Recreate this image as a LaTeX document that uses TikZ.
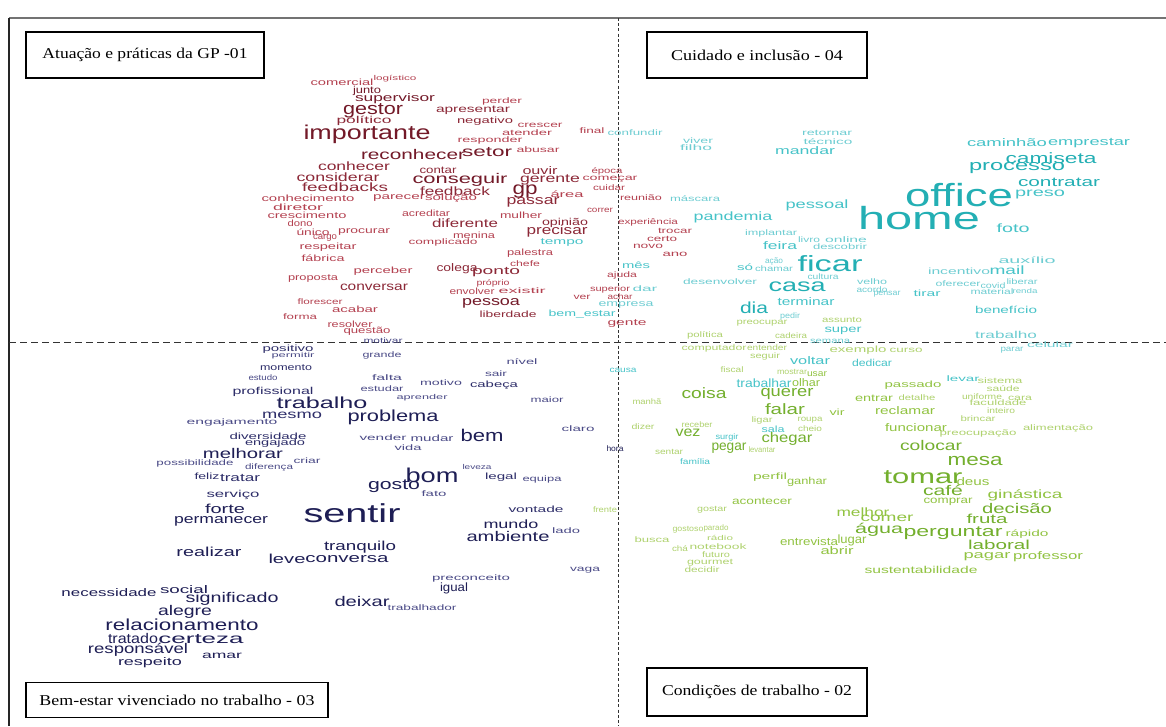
\documentclass[tikz,border=0pt]{standalone}
\usepackage{fontspec}
\usepackage{graphicx}
\setmainfont{Liberation Serif}
\newfontfamily\cloudfont{Liberation Sans}

% quadrant colours
\definecolor{r1}{RGB}{115,25,40}
\definecolor{r2}{RGB}{140,40,55}
\definecolor{r3}{RGB}{180,65,80}
\definecolor{c1}{RGB}{35,175,180}
\definecolor{c2}{RGB}{70,195,200}
\definecolor{c3}{RGB}{110,205,210}
\definecolor{g1}{RGB}{115,175,45}
\definecolor{g2}{RGB}{145,195,65}
\definecolor{g3}{RGB}{175,210,110}
\definecolor{n1}{RGB}{30,30,85}
\definecolor{n2}{RGB}{45,45,105}
\definecolor{n3}{RGB}{75,75,135}

\newcounter{wordno}
% \cw{x}{y}{font size}{width}{colour}{text}: one word of the cloud, stretched to its width
\newcommand\cw[6]{%
  \stepcounter{wordno}%
  \node[word, text=#5] (w\thewordno) at (#1,#2)
    {\resizebox{#4pt}{\height}{\cloudfont\fontsize{#3}{#3}\selectfont #6}};%
}
% \boxtext{font size}{width}{text}: serif title stretched to its width
\newcommand\boxtext[3]{\resizebox{#2pt}{\height}{\fontsize{#1}{#1}\selectfont #3}}

\tikzset{
  word/.style={inner sep=0pt, anchor=center},
  labelbox/.style={draw=black, line width=1.2pt, fill=white, inner sep=0pt},
  axisline/.style={black!80, line width=0.9pt},
}

\begin{document}
\begin{tikzpicture}[x=1pt, y=-1pt]
\useasboundingbox (0,0) rectangle (1166,726);
\fill[white] (0,0) rectangle (1166,726);

% frame and axes
\coordinate (tl) at (9,18);
\coordinate (tr) at (1166,18);
\coordinate (bl) at (9,726);
\coordinate (vt) at (618,18);
\coordinate (vb) at (618,726);
\coordinate (hl) at (9,342);
\coordinate (hr) at (1166,342);
\draw[black!55, line width=2.2pt] (tl) -- (tr);
\draw[black!85, line width=1.8pt] (tl) -- (bl);
\draw[axisline, dash pattern=on 3pt off 2.2pt] (vt) -- (vb);
\draw[axisline, dash pattern=on 7pt off 4pt] (hl) -- (hr);

% ---------- Atuação e práticas da GP (top left) ----------
\cw{342}{82}{9}{63}{r3}{comercial}
\cw{395}{79}{7}{43}{r3}{logístico}
\cw{367}{91}{10}{28}{r1}{junto}
\cw{395}{99}{11}{80}{r1}{supervisor}
\cw{373}{111}{17}{60}{r1}{gestor}
\cw{364}{121}{10}{55}{r2}{político}
\cw{367}{134}{20}{127}{r1}{importante}
\cw{502}{101}{8}{40}{r3}{perder}
\cw{473}{110}{10}{74}{r2}{apresentar}
\cw{485}{121}{9}{56}{r2}{negativo}
\cw{540}{125}{8}{45}{r3}{crescer}
\cw{527}{133}{8}{50}{r3}{atender}
\cw{490}{140}{8}{65}{r3}{responder}
\cw{592}{131}{8}{25}{r3}{final}
\cw{538}{150}{8}{43}{r3}{abusar}
\cw{413}{154}{14}{104}{r1}{reconhecer}
\cw{487}{152}{14}{50}{r1}{setor}
\cw{354}{166}{12}{72}{r2}{conhecer}
\cw{438}{170}{10}{37}{r2}{contar}
\cw{338}{177}{12}{83}{r2}{considerar}
\cw{460}{180}{14}{95}{r1}{conseguir}
\cw{540}{171}{11}{35}{r2}{ouvir}
\cw{607}{171}{8}{31}{r3}{época}
\cw{550}{180}{12}{60}{r2}{gerente}
\cw{610}{179}{8}{55}{r3}{começar}
\cw{345}{187}{12}{86}{r2}{feedbacks}
\cw{455}{191}{12}{70}{r2}{feedback}
\cw{525}{192}{18}{25}{r1}{gp}
\cw{567}{194}{9}{33}{r3}{área}
\cw{609}{188}{8}{32}{r3}{cuidar}
\cw{641}{198}{8}{42}{r3}{reunião}
\cw{308}{198}{9}{93}{r3}{conhecimento}
\cw{399}{198}{9}{52}{r3}{parecer}
\cw{451}{198}{9}{52}{r3}{solução}
\cw{298}{207}{9}{50}{r3}{diretor}
\cw{533}{202}{13}{53}{r2}{passar}
\cw{307}{215}{9}{79}{r3}{crescimento}
\cw{426}{213}{9}{48}{r3}{acreditar}
\cw{600}{210}{8}{26}{r3}{correr}
\cw{521}{215}{9}{42}{r3}{mulher}
\cw{300}{223}{9}{25}{r3}{dono}
\cw{465}{223}{12}{66}{r2}{diferente}
\cw{565}{223}{10}{46}{r2}{opinião}
\cw{648}{222}{8}{60}{r3}{experiência}
\cw{557}{231}{13}{61}{r2}{precisar}
\cw{313}{232}{9}{33}{r3}{único}
\cw{364}{232}{9}{52}{r3}{procurar}
\cw{474}{235}{9}{42}{r3}{menina}
\cw{675}{231}{8}{34}{r3}{trocar}
\cw{325}{238}{9}{24}{r3}{cargo}
\cw{662}{239}{8}{30}{r3}{certo}
\cw{443}{242}{8}{69}{r3}{complicado}
\cw{562}{243}{9}{43}{c2}{tempo}
\cw{648}{246}{8}{30}{r3}{novo}
\cw{328}{247}{9}{57}{r3}{respeitar}
\cw{530}{253}{9}{46}{r3}{palestra}
\cw{675}{254}{8}{25}{r3}{ano}
\cw{323}{258}{9}{43}{r3}{fábrica}
\cw{525}{264}{8}{30}{r3}{chefe}
\cw{383}{271}{9}{59}{r3}{perceber}
\cw{457}{269}{11}{41}{r2}{colega}
\cw{496}{272}{11}{48}{r2}{ponto}
\cw{636}{265}{9}{28}{c2}{mês}
\cw{622}{275}{8}{30}{r3}{ajuda}
\cw{313}{279}{9}{50}{r3}{proposta}
\cw{493}{283}{8}{33}{r3}{próprio}
\cw{374}{287}{12}{68}{r2}{conversar}
\cw{610}{289}{8}{40}{r3}{superior}
\cw{645}{289}{8}{25}{c3}{dar}
\cw{472}{291}{9}{45}{r3}{envolver}
\cw{522}{291}{8}{47}{r3}{existir}
\cw{582}{297}{8}{17}{r3}{ver}
\cw{620}{297}{8}{25}{r3}{achar}
\cw{491}{303}{13}{58}{r1}{pessoa}
\cw{320}{302}{8}{45}{r3}{florescer}
\cw{626}{305}{9}{55}{c3}{empresa}
\cw{355}{309}{9}{46}{r3}{acabar}
\cw{508}{314}{9}{57}{r2}{liberdade}
\cw{582}{314}{9}{67}{c2}{bem\_estar}
\cw{300}{317}{8}{34}{r3}{forma}
\cw{350}{324}{9}{45}{r3}{resolver}
\cw{627}{324}{9}{39}{r3}{gente}
\cw{367}{331}{9}{47}{r3}{questão}
\cw{383}{341}{8}{39}{n3}{motivar}

% ---------- Cuidado e inclusão (top right) ----------
\cw{635}{133}{8}{55}{c3}{confundir}
\cw{698}{141}{8}{30}{c3}{viver}
\cw{696}{148}{8}{32}{c3}{filho}
\cw{827}{133}{8}{50}{c3}{retornar}
\cw{828}{142}{8}{49}{c3}{técnico}
\cw{805}{151}{11}{60}{c2}{mandar}
\cw{1007}{143}{11}{80}{c2}{caminhão}
\cw{1089}{143}{11}{82}{c2}{emprestar}
\cw{1051}{158}{15}{91}{c1}{camiseta}
\cw{1017}{168}{15}{96}{c1}{processo}
\cw{1059}{182}{13}{82}{c1}{contratar}
\cw{959}{195}{32}{108}{c1}{office}
\cw{1040}{195}{12}{50}{c2}{preso}
\cw{919}{218}{32}{122}{c1}{home}
\cw{1013}{228}{12}{33}{c2}{foto}
\cw{695}{199}{8}{50}{c3}{máscara}
\cw{817}{205}{12}{63}{c2}{pessoal}
\cw{733}{217}{12}{79}{c2}{pandemia}
\cw{771}{233}{8}{52}{c3}{implantar}
\cw{809}{240}{8}{22}{c3}{livro}
\cw{846}{240}{8}{42}{c3}{online}
\cw{780}{246}{11}{34}{c2}{feira}
\cw{840}{247}{8}{54}{c3}{descobrir}
\cw{774}{261}{8}{18}{c3}{ação}
\cw{745}{267}{9}{16}{c2}{só}
\cw{774}{269}{8}{38}{c3}{chamar}
\cw{830}{264}{22}{65}{c1}{ficar}
\cw{823}{277}{8}{31}{c3}{cultura}
\cw{720}{282}{8}{74}{c3}{desenvolver}
\cw{797}{287}{18}{57}{c1}{casa}
\cw{872}{282}{8}{30}{c3}{velho}
\cw{872}{290}{8}{31}{c3}{acordo}
\cw{887}{294}{8}{27}{c3}{pensar}
\cw{927}{293}{9}{27}{c2}{tirar}
\cw{1027}{260}{9}{57}{c3}{auxílio}
\cw{959}{271}{9}{62}{c3}{incentivo}
\cw{1007}{270}{12}{35}{c2}{mail}
\cw{958}{284}{8}{45}{c3}{oferecer}
\cw{993}{286}{8}{25}{c3}{covid}
\cw{1022}{282}{8}{31}{c3}{liberar}
\cw{992}{292}{8}{43}{c3}{material}
\cw{1025}{291}{7}{25}{c3}{renda}
\cw{754}{308}{16}{28}{c1}{dia}
\cw{806}{302}{11}{57}{c2}{terminar}
\cw{1006}{310}{10}{62}{c2}{benefício}
\cw{790}{316}{8}{20}{c3}{pedir}
\cw{843}{331}{10}{37}{c2}{super}
\cw{830}{341}{8}{40}{c3}{semana}
\cw{1006}{335}{10}{62}{c3}{trabalho}
\cw{1050}{345}{8}{46}{c3}{celular}
\cw{1012}{350}{8}{23}{c3}{parar}
\cw{810}{361}{11}{40}{c2}{voltar}
\cw{872}{363}{10}{40}{c2}{dedicar}
\cw{623}{370}{8}{27}{c2}{causa}
\cw{764}{383}{12}{55}{c2}{trabalhar}
\cw{773}{429}{9}{23}{c2}{sala}
\cw{727}{437}{8}{23}{c2}{surgir}
\cw{695}{462}{8}{30}{c2}{família}
\cw{963}{379}{8}{33}{c2}{levar}

% ---------- Condições de trabalho (bottom right) ----------
\cw{762}{323}{8}{51}{g3}{preocupar}
\cw{842}{320}{8}{40}{g3}{assunto}
\cw{705}{335}{8}{36}{g3}{política}
\cw{791}{336}{8}{32}{g3}{cadeira}
\cw{714}{348}{8}{65}{g3}{computador}
\cw{767}{348}{8}{40}{g3}{entender}
\cw{858}{350}{9}{57}{g3}{exemplo}
\cw{906}{350}{8}{33}{g3}{curso}
\cw{765}{356}{8}{30}{g3}{seguir}
\cw{732}{370}{8}{23}{g3}{fiscal}
\cw{792}{372}{8}{30}{g3}{mostrar}
\cw{817}{374}{9}{20}{g2}{usar}
\cw{806}{383}{11}{28}{g2}{olhar}
\cw{913}{385}{9}{57}{g2}{passado}
\cw{1000}{381}{8}{45}{g3}{sistema}
\cw{1003}{389}{8}{33}{g3}{saúde}
\cw{704}{393}{15}{45}{g1}{coisa}
\cw{787}{394}{15}{53}{g1}{querer}
\cw{874}{398}{10}{38}{g2}{entrar}
\cw{917}{398}{8}{37}{g3}{detalhe}
\cw{982}{397}{8}{40}{g3}{uniforme}
\cw{1020}{398}{8}{24}{g3}{cara}
\cw{998}{403}{8}{57}{g3}{faculdade}
\cw{647}{402}{8}{29}{g3}{manhã}
\cw{785}{409}{15}{40}{g1}{falar}
\cw{837}{412}{9}{15}{g2}{vir}
\cw{905}{411}{11}{60}{g2}{reclamar}
\cw{1001}{411}{8}{28}{g3}{inteiro}
\cw{978}{419}{8}{35}{g3}{brincar}
\cw{643}{427}{8}{23}{g3}{dizer}
\cw{697}{425}{8}{31}{g3}{receber}
\cw{688}{433}{14}{25}{g1}{vez}
\cw{762}{420}{8}{21}{g3}{ligar}
\cw{810}{420}{8}{25}{g3}{roupa}
\cw{810}{429}{8}{24}{g3}{cheio}
\cw{916}{428}{11}{62}{g2}{funcionar}
\cw{978}{433}{8}{77}{g3}{preocupação}
\cw{1058}{428}{8}{70}{g3}{alimentação}
\cw{787}{439}{14}{51}{g1}{chegar}
\cw{669}{452}{8}{28}{g3}{sentar}
\cw{729}{448}{14}{35}{g1}{pegar}
\cw{762}{450}{8}{27}{g3}{levantar}
\cw{931}{445}{14}{62}{g1}{colocar}
\cw{975}{461}{17}{55}{g1}{mesa}
\cw{770}{477}{9}{34}{g2}{perfil}
\cw{807}{482}{10}{40}{g2}{ganhar}
\cw{923}{477}{20}{79}{g1}{tomar}
\cw{973}{482}{11}{33}{g2}{deus}
\cw{943}{490}{14}{40}{g1}{café}
\cw{1025}{495}{12}{75}{g2}{ginástica}
\cw{762}{501}{10}{60}{g2}{acontecer}
\cw{948}{502}{10}{49}{g2}{comprar}
\cw{712}{510}{8}{30}{g3}{gostar}
\cw{605}{510}{8}{24}{g3}{frente}
\cw{863}{512}{12}{53}{g2}{melhor}
\cw{1017}{508}{14}{70}{g1}{decisão}
\cw{887}{518}{12}{53}{g2}{comer}
\cw{987}{519}{13}{41}{g1}{fruta}
\cw{688}{530}{8}{31}{g3}{gostoso}
\cw{716}{528}{8}{25}{g3}{parado}
\cw{879}{530}{14}{48}{g1}{água}
\cw{953}{533}{15}{99}{g1}{perguntar}
\cw{720}{538}{7}{26}{g3}{rádio}
\cw{652}{540}{8}{35}{g3}{busca}
\cw{1027}{534}{9}{43}{g2}{rápido}
\cw{809}{542}{11}{58}{g2}{entrevista}
\cw{852}{540}{12}{29}{g2}{lugar}
\cw{999}{545}{13}{62}{g1}{laboral}
\cw{680}{549}{8}{16}{g3}{chá}
\cw{718}{547}{8}{57}{g3}{notebook}
\cw{837}{551}{11}{33}{g2}{abrir}
\cw{987}{557}{11}{47}{g2}{pagar}
\cw{1048}{557}{11}{70}{g2}{professor}
\cw{716}{555}{8}{28}{g3}{futuro}
\cw{710}{563}{8}{46}{g3}{gourmet}
\cw{702}{570}{8}{35}{g3}{decidir}
\cw{921}{570}{10}{113}{g2}{sustentabilidade}

% ---------- Bem-estar vivenciado no trabalho (bottom left) ----------
\cw{288}{349}{9}{51}{n2}{positivo}
\cw{293}{356}{7}{43}{n3}{permitir}
\cw{382}{355}{8}{39}{n3}{grande}
\cw{286}{368}{9}{52}{n2}{momento}
\cw{522}{362}{8}{31}{n3}{nível}
\cw{496}{374}{8}{22}{n3}{sair}
\cw{263}{378}{8}{29}{n3}{estudo}
\cw{387}{378}{8}{30}{n3}{falta}
\cw{441}{383}{8}{42}{n3}{motivo}
\cw{494}{385}{9}{48}{n2}{cabeça}
\cw{382}{389}{8}{43}{n3}{estudar}
\cw{273}{392}{10}{81}{n2}{profissional}
\cw{422}{398}{7}{51}{n3}{aprender}
\cw{547}{400}{8}{33}{n3}{maior}
\cw{322}{403}{16}{91}{n1}{trabalho}
\cw{292}{415}{12}{60}{n2}{mesmo}
\cw{393}{417}{16}{91}{n1}{problema}
\cw{232}{422}{8}{91}{n3}{engajamento}
\cw{578}{429}{8}{33}{n3}{claro}
\cw{268}{436}{9}{77}{n2}{diversidade}
\cw{482}{435}{17}{43}{n1}{bem}
\cw{383}{438}{8}{47}{n3}{vender}
\cw{432}{438}{9}{43}{n3}{mudar}
\cw{275}{443}{9}{60}{n2}{engajado}
\cw{408}{448}{8}{27}{n3}{vida}
\cw{615}{449}{8}{17}{n1}{hora}
\cw{243}{453}{14}{80}{n1}{melhorar}
\cw{307}{461}{8}{27}{n3}{criar}
\cw{195}{463}{8}{77}{n3}{possibilidade}
\cw{269}{467}{8}{48}{n3}{diferença}
\cw{477}{467}{7}{29}{n3}{leveza}
\cw{432}{475}{20}{53}{n1}{bom}
\cw{207}{476}{9}{25}{n2}{feliz}
\cw{501}{477}{9}{32}{n2}{legal}
\cw{240}{478}{11}{40}{n2}{tratar}
\cw{542}{479}{8}{39}{n3}{equipa}
\cw{394}{486}{15}{52}{n1}{gosto}
\cw{434}{494}{8}{25}{n3}{fato}
\cw{233}{495}{10}{53}{n2}{serviço}
\cw{536}{509}{9}{55}{n2}{vontade}
\cw{225}{509}{13}{40}{n1}{forte}
\cw{352}{513}{26}{97}{n1}{sentir}
\cw{221}{521}{13}{94}{n1}{permanecer}
\cw{511}{524}{12}{55}{n1}{mundo}
\cw{566}{531}{8}{28}{n3}{lado}
\cw{508}{536}{14}{83}{n1}{ambiente}
\cw{360}{547}{13}{72}{n1}{tranquilo}
\cw{209}{552}{13}{65}{n1}{realizar}
\cw{287}{559}{13}{37}{n1}{leve}
\cw{347}{559}{13}{83}{n1}{conversa}
\cw{585}{570}{8}{30}{n3}{vaga}
\cw{471}{578}{8}{78}{n3}{preconceito}
\cw{454}{588}{12}{28}{n1}{igual}
\cw{184}{590}{11}{48}{n1}{social}
\cw{109}{593}{11}{95}{n1}{necessidade}
\cw{232}{599}{14}{93}{n1}{significado}
\cw{362}{601}{14}{55}{n1}{deixar}
\cw{422}{608}{8}{69}{n3}{trabalhador}
\cw{185}{612}{14}{54}{n1}{alegre}
\cw{182}{625}{16}{153}{n1}{relacionamento}
\cw{133}{638}{14}{50}{n1}{tratado}
\cw{201}{639}{14}{85}{n1}{certeza}
\cw{138}{650}{14}{100}{n1}{responsável}
\cw{222}{656}{10}{40}{n1}{amar}
\cw{150}{663}{11}{64}{n1}{respeito}

% ---------- quadrant titles ----------
\node[labelbox, minimum width=238, minimum height=46] (q1) at (145,55)
  {\boxtext{15}{205}{Atuação e práticas da GP -01}};
\node[labelbox, minimum width=220, minimum height=46] (q4) at (757,55)
  {\boxtext{15}{172}{Cuidado e inclusão - 04}};
\node[labelbox, minimum width=302, minimum height=35] (q3) at (177,700)
  {\boxtext{15}{275}{Bem-estar vivenciado no trabalho - 03}};
\node[labelbox, minimum width=220, minimum height=48] (q2) at (757,692)
  {\boxtext{15}{190}{Condições de trabalho - 02}};
\end{tikzpicture}
\end{document}
